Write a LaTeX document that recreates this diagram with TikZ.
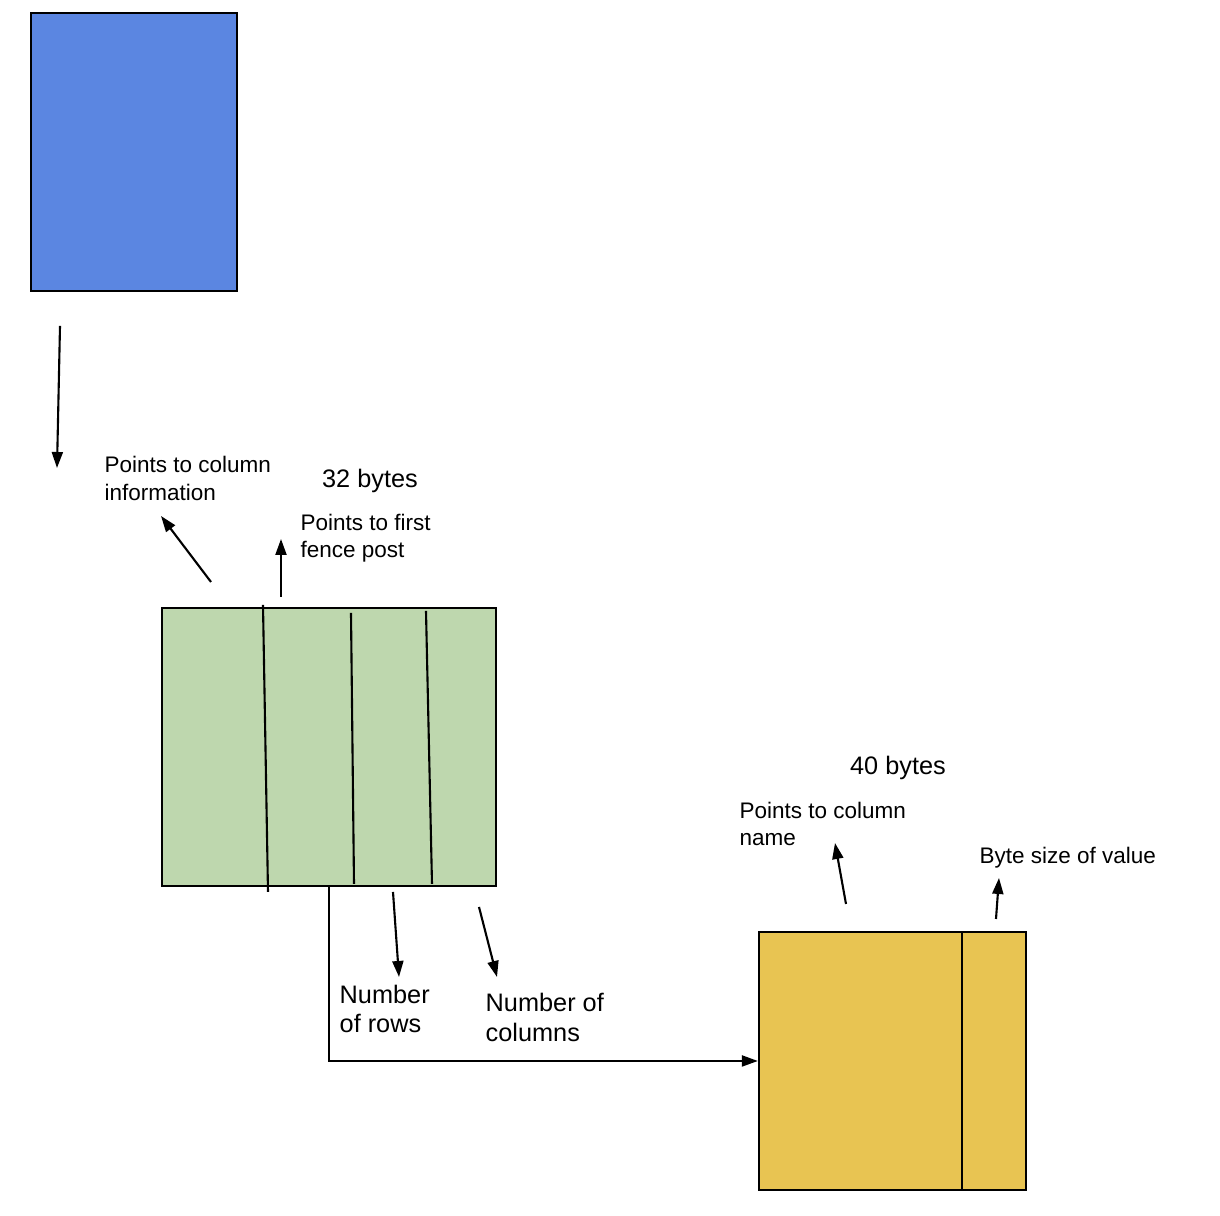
\documentclass[tikz,border=0pt]{standalone}
\usepackage{fontspec}
\setmainfont{Liberation Sans}
\usetikzlibrary{arrows.meta}
\tikzset{
	block/.style={draw, line width=0.65pt, inner sep=0pt},
	note/.style={anchor=west, align=left, inner sep=0pt, font=\fontsize{6.4}{7.7}\selectfont},
	bignote/.style={align=left, inner sep=0pt, font=\fontsize{7.2}{8.5}\selectfont},
	ptr/.style={line width=0.6pt, -{Triangle[length=1.6mm,width=1.1mm]}}
}
\definecolor{blockblue}{RGB}{91,134,225}
\definecolor{blockgreen}{RGB}{190,215,174}
\definecolor{blockyellow}{RGB}{232,196,82}
\begin{document}
\begin{tikzpicture}
			\useasboundingbox (0,0) rectangle (12.2,12.16);
			% blocks
			\node	(table) at (1.34,10.64) [block, fill=blockblue, minimum width=2.06cm, minimum height=2.78cm] {};
			\node	(header) at (3.29,4.69) [block, fill=blockgreen, minimum width=3.34cm, minimum height=2.78cm] {};
			\node	(column) at (8.925,1.55) [block, fill=blockyellow, minimum width=2.67cm, minimum height=2.58cm] {};
			
			\draw[line width=0.6pt] (2.63,6.11) -- (2.68,3.24);
			\draw[line width=0.6pt] (3.51,6.03) -- (3.54,3.32);
			\draw[line width=0.6pt] (4.26,6.05) -- (4.32,3.32);
			\draw[line width=0.6pt] (9.62,2.84) -- (9.62,0.26);
			
			% labels
			\node	(colinfo) at (1.04,7.375) [note] {Points to column\\information};
			\node	(hsize) at (3.70,7.35) [bignote] {32 bytes};
			\node	(fence) at (3.00,6.775) [note] {Points to first\\fence post};
			\node	(rows) at (3.39,2.07) [bignote, anchor=west] {Number\\of rows};
			\node	(cols) at (4.85,1.985) [bignote, anchor=west] {Number of\\columns};
			\node	(csize) at (8.98,4.48) [bignote] {40 bytes};
			\node	(colname) at (7.39,3.92) [note] {Points to column\\name};
			\node	(bytesize) at (9.79,3.58) [note] {Byte size of value};
			
			% arrow ends
			\coordinate (a1) at (0.60,8.90);
			\coordinate (a2) at (0.57,7.48);
			\coordinate (b1) at (2.11,6.34);
			\coordinate (b2) at (1.61,7.00);
			\coordinate (c1) at (2.81,6.19);
			\coordinate (c2) at (2.81,6.77);
			\coordinate (d1) at (3.93,3.24);
			\coordinate (d2) at (3.99,2.39);
			\coordinate (e1) at (4.79,3.09);
			\coordinate (e2) at (4.97,2.39);
			\coordinate (f1) at (8.46,3.12);
			\coordinate (f2) at (8.35,3.73);
			\coordinate (g1) at (9.96,2.97);
			\coordinate (g2) at (9.99,3.38);
			
			\draw[ptr]
			(a1) edge (a2)
			(b1) edge (b2)
			(c1) edge (c2)
			(d1) edge (d2)
			(e1) edge (e2)
			(f1) edge (f2)
			(g1) edge (g2)
			(header.south) |- (column.west)
			;
		\end{tikzpicture}
\end{document}
